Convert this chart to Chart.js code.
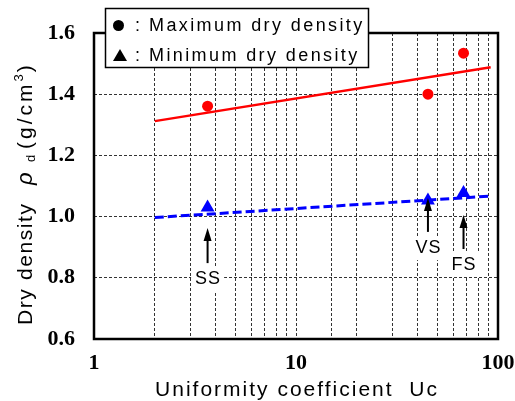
<!DOCTYPE html>
<html>
<head>
<meta charset="utf-8">
<script src="https://cdn.jsdelivr.net/npm/chart.js@4.4.0/dist/chart.umd.min.js"></script>
<style>
  html, body { margin: 0; padding: 0; background: #fff; }
</style>
</head>
<body>
<canvas id="densityChart" width="515" height="401"></canvas>
<script>
// values
const soils = ['SS', 'VS', 'FS'];
const uc = [3.65, 45, 67.5];
const maxDensity = [1.361, 1.40, 1.534];
const minDensity = [1.03, 1.053, 1.077];

// fitted lines, end points
const fitUc = [2, 92];
const maxFit = [1.312, 1.488];
const minFit = [0.997, 1.067];

// arrows pointing at the samples, and where the names sit
const arrowTop = [0.963, 1.061, 1.005];
const arrowBottom = [0.848, 0.950, 0.894];
const labelY = [0.796, 0.897, 0.842];

const xTicks = [1, 10, 100];
const yTicks = [0.6, 0.8, 1.0, 1.2, 1.4, 1.6];

const sans = '"Liberation Sans", Arial, sans-serif';
const serif = '"Liberation Serif", "Times New Roman", serif';

function toPoints(xs, ys) {
  return xs.map((v, i) => ({ x: v, y: ys[i] }));
}

const extras = {
  id: 'extras',
  afterDatasetsDraw(chart) {
    const { ctx, scales: { x, y } } = chart;
    ctx.save();
    soils.forEach((name, i) => {
      const px = x.getPixelForValue(uc[i]);
      const top = y.getPixelForValue(arrowTop[i]);
      const bot = y.getPixelForValue(arrowBottom[i]);
      ctx.strokeStyle = '#000';
      ctx.lineWidth = 2;
      ctx.beginPath();
      ctx.moveTo(px, bot);
      ctx.lineTo(px, top + 10);
      ctx.stroke();
      ctx.fillStyle = '#000';
      ctx.beginPath();
      ctx.moveTo(px, top);
      ctx.lineTo(px - 4, top + 13);
      ctx.lineTo(px + 4, top + 13);
      ctx.closePath();
      ctx.fill();

      ctx.font = '18px ' + sans;
      ctx.letterSpacing = '1px';
      const w = ctx.measureText(name).width - 1;
      const ly = y.getPixelForValue(labelY[i]);
      ctx.fillStyle = '#fff';
      ctx.fillRect(px - w / 2 - 4, ly - 12, w + 8, 24);
      ctx.fillStyle = '#000';
      ctx.textAlign = 'left';
      ctx.textBaseline = 'middle';
      ctx.fillText(name, px - w / 2, ly);
    });
    ctx.restore();
  },
  afterDraw(chart) {
    const { ctx, chartArea: a } = chart;
    ctx.save();
    // frame
    ctx.strokeStyle = '#000';
    ctx.lineWidth = 2.5;
    ctx.strokeRect(a.left, a.top, a.right - a.left, a.bottom - a.top);

    // legend box
    ctx.fillStyle = '#fff';
    ctx.fillRect(105, 8, 264, 60);
    ctx.lineWidth = 1.5;
    ctx.strokeRect(105.5, 8.5, 263, 59);
    ctx.fillStyle = '#000';
    ctx.beginPath();
    ctx.arc(118.5, 25.5, 5.5, 0, Math.PI * 2);
    ctx.fill();
    ctx.beginPath();
    ctx.moveTo(120, 49);
    ctx.lineTo(127, 61);
    ctx.lineTo(113, 61);
    ctx.closePath();
    ctx.fill();
    ctx.font = '18px ' + sans;
    ctx.letterSpacing = '2.4px';
    ctx.textAlign = 'left';
    ctx.textBaseline = 'middle';
    ctx.fillText(':', 135, 26);
    ctx.fillText(':', 135, 56);
    ctx.fillText(chart.data.datasets[2].label, 149, 26);
    ctx.fillText(chart.data.datasets[3].label, 149, 56);

    // x title
    ctx.font = '21px ' + sans;
    ctx.letterSpacing = '2px';
    ctx.textBaseline = 'alphabetic';
    const xt = 'Uniformity coefficient  Uc';
    const xw = ctx.measureText(xt).width - 2;
    ctx.fillText(xt, (a.left + a.right) / 2 - xw / 2, 396);

    // y title, drawn piece by piece (u = distance up from y = 325)
    ctx.translate(32, 325);
    ctx.rotate(-Math.PI / 2);
    let u = 0;
    const piece = (txt, font, spacing, dy, at) => {
      if (at !== undefined) u = at;
      ctx.font = font;
      ctx.letterSpacing = spacing;
      ctx.fillText(txt, u, dy);
      u += ctx.measureText(txt).width;
    };
    piece('Dry density', '21px ' + sans, '1.6px', 0, 0);
    piece('\u03c1', 'italic 22px ' + sans, '0px', 0, 140);
    piece('d', '13px ' + sans, '0px', 3, 163);
    piece('(g/cm', '21px ' + sans, '3px', 0, 176);
    piece('3', '13px ' + sans, '0px', -9);
    u += 2;
    piece(')', '21px ' + sans, '0px', 0);
    ctx.restore();
  }
};

const ctx = document.getElementById('densityChart').getContext('2d');
new Chart(ctx, {
  type: 'scatter',
  data: {
    datasets: [
      {
        label: 'Maximum fit',
        data: toPoints(fitUc, maxFit),
        showLine: true,
        borderColor: '#ff0000',
        borderWidth: 2.5,
        pointRadius: 0
      },
      {
        label: 'Minimum fit',
        data: toPoints(fitUc, minFit),
        showLine: true,
        borderColor: '#0000ff',
        borderWidth: 3,
        borderDash: [9, 4],
        pointRadius: 0
      },
      {
        label: 'Maximum dry density',
        data: toPoints(uc, maxDensity),
        pointStyle: 'circle',
        pointRadius: 5.5,
        backgroundColor: '#ff0000',
        borderWidth: 0
      },
      {
        label: 'Minimum dry density',
        data: toPoints(uc, minDensity),
        pointStyle: 'triangle',
        pointRadius: 8,
        backgroundColor: '#0000ff',
        borderWidth: 0
      }
    ]
  },
  options: {
    responsive: false,
    animation: false,
    events: [],
    layout: { padding: { top: 33, right: 17, left: 0, bottom: 0 } },
    plugins: {
      legend: { display: false },
      tooltip: { enabled: false }
    },
    scales: {
      x: {
        type: 'logarithmic',
        min: 1,
        max: 100,
        grid: { color: '#333', lineWidth: 1, drawTicks: false },
        border: { display: false, dash: [3, 2] },
        ticks: {
          autoSkip: false,
          maxRotation: 0,
          padding: 11,
          color: '#000',
          font: { family: serif, size: 22, weight: 'bold' },
          callback: (v) => xTicks.some(t => Math.abs(t - v) < 1e-6) ? String(v) : ''
        },
        afterFit: (s) => { s.height = 62; s.paddingLeft = 0; s.paddingRight = 0; }
      },
      y: {
        min: yTicks[0],
        max: yTicks[yTicks.length - 1],
        grid: { color: '#333', lineWidth: 1, drawTicks: false },
        border: { display: false, dash: [3, 2] },
        ticks: {
          stepSize: 0.2,
          padding: 19,
          color: '#000',
          font: { family: serif, size: 22, weight: 'bold' },
          callback: (v) => v.toFixed(1)
        },
        afterFit: (s) => { s.width = 94; s.paddingTop = 0; s.paddingBottom = 0; }
      }
    }
  },
  plugins: [extras]
});
</script>
</body>
</html>
